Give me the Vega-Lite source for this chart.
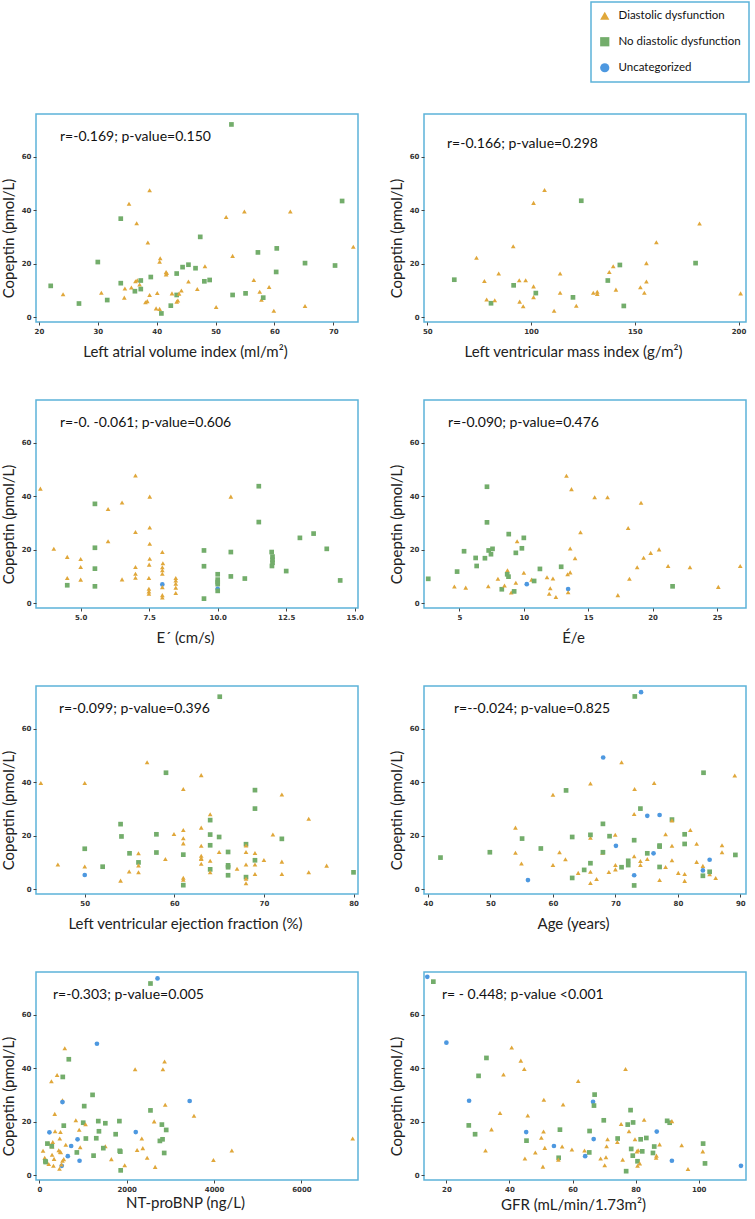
{
"$schema": "https://vega.github.io/schema/vega-lite/v6.json",
"background": "white",
"padding": {"left": 0, "top": 1, "right": 0, "bottom": 0},
"config": {
  "font": "Lato",
  "view": {"stroke": "#5cb3d9", "strokeWidth": 1.5},
  "axis": {"domain": false, "grid": false, "ticks": true, "tickSize": 3, "tickColor": "#444", "labelFont": "DejaVu Sans", "labelFontSize": 7, "labelFontWeight": "bold", "labelColor": "#333", "labelPadding": 2, "titleFont": "Lato", "titleFontSize": 15, "titleFontWeight": "normal", "titleColor": "#222"},
  "axisX": {"titleX": 149, "titlePadding": 10},
  "axisY": {"titleY": 124, "titlePadding": 5},
  "title": {"font": "Lato", "fontSize": 14, "fontWeight": "normal", "color": "#111", "anchor": "start", "frame": "group", "offset": -30},
  "legend": {"orient": "none", "legendX": 555, "legendY": -112, "strokeColor": "#5cb3d9", "strokeWidth": 1.5, "padding": 8, "labelFont": "Lato", "labelFontSize": 11.5, "labelColor": "#111", "symbolSize": 85, "rowPadding": 13, "labelOffset": 8, "labelLimit": 300}
},
"datasets": {
"p1": [
{"x":22.0,"y":11.8,"g":"N"},{"x":24.1,"y":8.7,"g":"D"},{"x":26.8,"y":5.2,"g":"N"},{"x":30.0,"y":20.7,"g":"N"},{"x":30.6,"y":9.2,"g":"D"},{"x":31.6,"y":6.5,"g":"N"},{"x":33.9,"y":36.9,"g":"N"},{"x":33.9,"y":12.8,"g":"N"},{"x":34.6,"y":10.8,"g":"D"},{"x":34.5,"y":7.4,"g":"D"},{"x":35.3,"y":42.5,"g":"D"},{"x":35.7,"y":11.2,"g":"D"},{"x":36.3,"y":9.8,"g":"N"},{"x":36.4,"y":13.5,"g":"D"},{"x":36.6,"y":35.2,"g":"D"},{"x":36.7,"y":13.9,"g":"D"},{"x":37.1,"y":12.3,"g":"D"},{"x":37.3,"y":10.6,"g":"N"},{"x":37.3,"y":13.8,"g":"N"},{"x":38.1,"y":5.7,"g":"D"},{"x":38.4,"y":6.1,"g":"D"},{"x":38.5,"y":28.0,"g":"D"},{"x":38.8,"y":47.5,"g":"D"},{"x":38.8,"y":8.4,"g":"D"},{"x":39.0,"y":15.1,"g":"N"},{"x":39.9,"y":3.4,"g":"D"},{"x":40.1,"y":9.1,"g":"D"},{"x":40.5,"y":3.2,"g":"D"},{"x":40.5,"y":20.8,"g":"D"},{"x":40.6,"y":22.1,"g":"D"},{"x":40.8,"y":1.5,"g":"N"},{"x":41.6,"y":17.0,"g":"D"},{"x":41.6,"y":16.1,"g":"D"},{"x":41.7,"y":16.6,"g":"D"},{"x":42.4,"y":4.4,"g":"N"},{"x":42.6,"y":9.0,"g":"D"},{"x":43.4,"y":8.4,"g":"N"},{"x":43.4,"y":16.4,"g":"N"},{"x":43.4,"y":5.9,"g":"D"},{"x":43.6,"y":6.3,"g":"D"},{"x":43.8,"y":8.9,"g":"D"},{"x":44.2,"y":10.1,"g":"D"},{"x":44.4,"y":18.8,"g":"N"},{"x":45.4,"y":19.7,"g":"N"},{"x":45.4,"y":13.4,"g":"D"},{"x":46.6,"y":18.4,"g":"N"},{"x":46.9,"y":10.6,"g":"D"},{"x":47.4,"y":30.1,"g":"N"},{"x":48.2,"y":19.1,"g":"D"},{"x":48.1,"y":13.5,"g":"N"},{"x":49.0,"y":14.0,"g":"N"},{"x":50.1,"y":3.9,"g":"D"},{"x":51.8,"y":37.5,"g":"D"},{"x":52.7,"y":72.1,"g":"N"},{"x":52.9,"y":23.0,"g":"D"},{"x":52.9,"y":8.4,"g":"N"},{"x":54.9,"y":39.6,"g":"D"},{"x":55.1,"y":9.0,"g":"N"},{"x":56.5,"y":14.0,"g":"D"},{"x":57.2,"y":24.3,"g":"N"},{"x":57.5,"y":9.6,"g":"D"},{"x":57.8,"y":6.6,"g":"D"},{"x":58.1,"y":7.4,"g":"N"},{"x":59.1,"y":11.4,"g":"D"},{"x":59.9,"y":2.5,"g":"D"},{"x":60.4,"y":25.8,"g":"N"},{"x":60.3,"y":17.0,"g":"N"},{"x":62.7,"y":39.6,"g":"D"},{"x":65.2,"y":20.3,"g":"N"},{"x":65.2,"y":4.3,"g":"D"},{"x":70.3,"y":19.4,"g":"N"},{"x":71.5,"y":43.5,"g":"N"},{"x":73.4,"y":26.4,"g":"D"}
],
"p2": [
{"x":63.0,"y":14.1,"g":"N"},{"x":73.7,"y":22.3,"g":"D"},{"x":77.5,"y":13.6,"g":"D"},{"x":78.6,"y":6.7,"g":"D"},{"x":80.7,"y":5.3,"g":"N"},{"x":82.5,"y":6.4,"g":"D"},{"x":84.4,"y":16.4,"g":"D"},{"x":91.6,"y":12.0,"g":"N"},{"x":91.4,"y":26.6,"g":"D"},{"x":94.3,"y":13.9,"g":"D"},{"x":94.5,"y":5.9,"g":"D"},{"x":96.2,"y":4.2,"g":"D"},{"x":97.4,"y":13.9,"g":"D"},{"x":101.2,"y":42.8,"g":"D"},{"x":101.2,"y":11.6,"g":"D"},{"x":101.2,"y":7.6,"g":"D"},{"x":102.3,"y":9.1,"g":"N"},{"x":106.5,"y":47.6,"g":"D"},{"x":111.1,"y":2.5,"g":"D"},{"x":114.0,"y":16.4,"g":"D"},{"x":114.0,"y":9.2,"g":"D"},{"x":120.2,"y":7.5,"g":"N"},{"x":121.8,"y":4.4,"g":"D"},{"x":124.2,"y":43.6,"g":"N"},{"x":130.0,"y":9.2,"g":"D"},{"x":131.9,"y":9.6,"g":"D"},{"x":131.9,"y":8.8,"g":"D"},{"x":137.0,"y":13.8,"g":"N"},{"x":137.7,"y":17.0,"g":"D"},{"x":139.6,"y":19.1,"g":"D"},{"x":142.8,"y":19.6,"g":"N"},{"x":140.9,"y":10.4,"g":"D"},{"x":144.7,"y":4.3,"g":"N"},{"x":152.7,"y":11.3,"g":"D"},{"x":154.6,"y":9.2,"g":"D"},{"x":155.6,"y":20.3,"g":"D"},{"x":155.6,"y":13.4,"g":"D"},{"x":160.4,"y":28.1,"g":"D"},{"x":179.3,"y":20.3,"g":"N"},{"x":181.2,"y":35.1,"g":"D"},{"x":201.0,"y":9.0,"g":"D"}
],
"p3": [
{"x":3.53,"y":42.9,"g":"D"},{"x":5.52,"y":37.2,"g":"N"},{"x":6.0,"y":35.3,"g":"D"},{"x":6.51,"y":37.7,"g":"D"},{"x":7.0,"y":47.8,"g":"D"},{"x":7.0,"y":26.7,"g":"D"},{"x":7.52,"y":39.9,"g":"D"},{"x":7.52,"y":28.4,"g":"D"},{"x":7.52,"y":22.3,"g":"D"},{"x":7.52,"y":16.7,"g":"D"},{"x":6.0,"y":23.2,"g":"D"},{"x":4.02,"y":20.4,"g":"D"},{"x":4.51,"y":17.4,"g":"D"},{"x":5.0,"y":16.6,"g":"D"},{"x":5.52,"y":20.8,"g":"N"},{"x":7.98,"y":19.2,"g":"D"},{"x":9.5,"y":19.8,"g":"N"},{"x":10.48,"y":39.9,"g":"D"},{"x":11.5,"y":43.8,"g":"N"},{"x":11.5,"y":30.4,"g":"N"},{"x":11.97,"y":19.2,"g":"N"},{"x":12.0,"y":17.5,"g":"N"},{"x":12.0,"y":16.3,"g":"N"},{"x":12.0,"y":15.2,"g":"N"},{"x":13.0,"y":24.5,"g":"N"},{"x":13.5,"y":26.1,"g":"N"},{"x":13.98,"y":20.4,"g":"N"},{"x":10.48,"y":19.2,"g":"N"},
{"x":4.51,"y":9.5,"g":"D"},{"x":4.51,"y":6.8,"g":"N"},{"x":5.0,"y":13.6,"g":"D"},{"x":5.0,"y":8.9,"g":"D"},{"x":5.52,"y":13.0,"g":"N"},{"x":5.52,"y":6.4,"g":"N"},{"x":6.51,"y":9.0,"g":"D"},{"x":7.0,"y":13.6,"g":"D"},{"x":7.0,"y":11.1,"g":"D"},{"x":7.0,"y":9.6,"g":"D"},{"x":7.49,"y":9.5,"g":"D"},{"x":7.49,"y":5.5,"g":"D"},{"x":7.49,"y":4.5,"g":"D"},{"x":7.49,"y":3.6,"g":"D"},{"x":7.98,"y":12.4,"g":"D"},{"x":7.98,"y":11.1,"g":"D"},{"x":7.98,"y":7.1,"g":"U"},{"x":7.98,"y":6.1,"g":"D"},{"x":7.98,"y":3.1,"g":"D"},{"x":7.98,"y":2.2,"g":"D"},{"x":8.47,"y":9.5,"g":"D"},{"x":8.47,"y":8.6,"g":"D"},{"x":8.47,"y":7.4,"g":"D"},{"x":8.47,"y":5.9,"g":"D"},{"x":8.47,"y":3.9,"g":"D"},{"x":9.5,"y":13.9,"g":"N"},{"x":9.5,"y":1.8,"g":"N"},{"x":10.0,"y":10.9,"g":"N"},{"x":10.0,"y":8.9,"g":"N"},{"x":10.0,"y":8.0,"g":"N"},{"x":10.0,"y":7.2,"g":"N"},{"x":10.0,"y":5.5,"g":"U"},{"x":10.0,"y":4.7,"g":"N"},{"x":10.48,"y":10.1,"g":"N"},{"x":10.99,"y":9.3,"g":"N"},{"x":11.98,"y":14.0,"g":"N"},{"x":12.5,"y":12.1,"g":"N"},{"x":14.47,"y":8.6,"g":"N"},{"x":7.5,"y":14.5,"g":"D"},{"x":8.0,"y":15.0,"g":"D"},{"x":7.98,"y":13.5,"g":"D"}
],
"p4": [
{"x":5.36,"y":19.5,"g":"N"},{"x":6.26,"y":17.0,"g":"N"},{"x":6.98,"y":16.9,"g":"N"},{"x":7.14,"y":43.6,"g":"N"},{"x":7.14,"y":30.3,"g":"N"},{"x":7.27,"y":19.8,"g":"N"},{"x":7.45,"y":18.4,"g":"N"},{"x":7.57,"y":20.4,"g":"N"},{"x":8.83,"y":25.9,"g":"N"},{"x":9.48,"y":23.2,"g":"D"},{"x":9.38,"y":18.9,"g":"N"},{"x":9.85,"y":20.6,"g":"N"},{"x":10.0,"y":24.5,"g":"N"},{"x":13.31,"y":47.7,"g":"D"},{"x":13.7,"y":42.7,"g":"D"},{"x":13.6,"y":20.5,"g":"D"},{"x":13.98,"y":16.9,"g":"D"},{"x":14.4,"y":26.6,"g":"D"},{"x":15.5,"y":39.7,"g":"D"},{"x":16.5,"y":39.7,"g":"D"},{"x":18.1,"y":28.2,"g":"D"},{"x":19.1,"y":37.6,"g":"D"},{"x":19.3,"y":17.1,"g":"D"},{"x":19.85,"y":18.9,"g":"D"},{"x":20.5,"y":20.2,"g":"D"},
{"x":2.58,"y":9.2,"g":"N"},{"x":4.82,"y":11.9,"g":"N"},{"x":4.61,"y":6.3,"g":"D"},{"x":6.34,"y":14.0,"g":"N"},{"x":5.49,"y":5.9,"g":"D"},{"x":7.24,"y":6.4,"g":"D"},{"x":7.99,"y":9.2,"g":"D"},{"x":8.29,"y":5.3,"g":"N"},{"x":8.5,"y":6.7,"g":"D"},{"x":8.73,"y":12.4,"g":"D"},{"x":8.71,"y":10.9,"g":"N"},{"x":8.81,"y":10.0,"g":"N"},{"x":9.02,"y":4.1,"g":"D"},{"x":9.25,"y":4.5,"g":"N"},{"x":9.38,"y":7.7,"g":"D"},{"x":10.0,"y":11.5,"g":"D"},{"x":10.23,"y":7.2,"g":"U"},{"x":10.6,"y":8.9,"g":"D"},{"x":10.8,"y":8.4,"g":"N"},{"x":11.25,"y":12.9,"g":"N"},{"x":11.8,"y":9.8,"g":"D"},{"x":12.05,"y":5.7,"g":"D"},{"x":11.97,"y":3.6,"g":"D"},{"x":12.26,"y":9.3,"g":"D"},{"x":12.49,"y":2.4,"g":"D"},{"x":12.9,"y":13.7,"g":"N"},{"x":13.4,"y":10.9,"g":"D"},{"x":13.6,"y":11.6,"g":"D"},{"x":13.44,"y":5.4,"g":"U"},{"x":13.44,"y":4.2,"g":"D"},{"x":17.3,"y":3.1,"g":"D"},{"x":18.2,"y":9.2,"g":"D"},{"x":18.8,"y":13.5,"g":"D"},{"x":21.2,"y":14.0,"g":"D"},{"x":21.55,"y":6.4,"g":"N"},{"x":22.9,"y":13.5,"g":"D"},{"x":25.1,"y":6.2,"g":"D"},{"x":26.8,"y":14.0,"g":"D"}
],
"p5": [
{"x":45.1,"y":39.8,"g":"D"},{"x":50.0,"y":39.8,"g":"D"},{"x":56.96,"y":47.5,"g":"D"},{"x":59.07,"y":43.6,"g":"N"},{"x":61.0,"y":37.5,"g":"D"},{"x":63.0,"y":42.7,"g":"D"},{"x":65.07,"y":72.0,"g":"N"},{"x":69.0,"y":37.1,"g":"N"},{"x":72.0,"y":35.5,"g":"D"},
{"x":47.0,"y":9.3,"g":"D"},{"x":50.0,"y":8.6,"g":"D"},{"x":50.0,"y":5.4,"g":"U"},{"x":50.0,"y":15.2,"g":"N"},{"x":52.0,"y":8.5,"g":"N"},{"x":54.0,"y":24.4,"g":"N"},{"x":54.1,"y":19.8,"g":"N"},{"x":54.0,"y":3.3,"g":"D"},{"x":55.0,"y":13.5,"g":"N"},{"x":54.96,"y":6.7,"g":"D"},{"x":56.0,"y":13.5,"g":"D"},{"x":56.0,"y":10.1,"g":"N"},{"x":56.0,"y":9.0,"g":"D"},{"x":56.0,"y":6.4,"g":"D"},{"x":58.0,"y":20.6,"g":"N"},{"x":58.0,"y":13.8,"g":"N"},{"x":59.0,"y":11.4,"g":"D"},{"x":59.96,"y":20.7,"g":"D"},{"x":61.0,"y":22.2,"g":"D"},{"x":61.0,"y":19.1,"g":"D"},{"x":61.0,"y":17.2,"g":"D"},{"x":61.0,"y":13.0,"g":"N"},{"x":61.0,"y":4.4,"g":"D"},{"x":61.0,"y":3.6,"g":"D"},{"x":61.0,"y":1.6,"g":"N"},{"x":63.0,"y":23.1,"g":"D"},{"x":63.0,"y":16.3,"g":"D"},{"x":63.0,"y":12.6,"g":"D"},{"x":63.0,"y":11.7,"g":"D"},{"x":63.0,"y":11.4,"g":"D"},{"x":63.0,"y":9.6,"g":"D"},{"x":64.0,"y":28.1,"g":"D"},{"x":64.0,"y":25.9,"g":"N"},{"x":64.0,"y":20.5,"g":"N"},{"x":64.0,"y":16.5,"g":"N"},{"x":64.0,"y":10.7,"g":"D"},{"x":64.0,"y":7.5,"g":"N"},{"x":64.0,"y":6.4,"g":"D"},{"x":65.0,"y":19.6,"g":"N"},{"x":65.0,"y":14.0,"g":"D"},{"x":66.0,"y":14.0,"g":"N"},{"x":66.0,"y":9.0,"g":"N"},{"x":66.0,"y":8.3,"g":"N"},{"x":66.0,"y":5.3,"g":"N"},{"x":67.0,"y":7.7,"g":"D"},{"x":68.0,"y":16.9,"g":"N"},{"x":68.0,"y":16.4,"g":"D"},{"x":68.0,"y":14.0,"g":"D"},{"x":68.0,"y":9.3,"g":"D"},{"x":68.0,"y":4.6,"g":"N"},{"x":68.0,"y":4.0,"g":"D"},{"x":68.0,"y":2.3,"g":"D"},{"x":69.0,"y":30.2,"g":"N"},{"x":69.0,"y":13.6,"g":"D"},{"x":69.0,"y":10.9,"g":"N"},{"x":69.0,"y":9.3,"g":"D"},{"x":69.0,"y":5.8,"g":"D"},{"x":70.0,"y":11.0,"g":"D"},{"x":71.0,"y":20.5,"g":"D"},{"x":72.0,"y":18.9,"g":"N"},{"x":72.0,"y":10.4,"g":"D"},{"x":72.0,"y":5.8,"g":"D"},{"x":75.0,"y":26.4,"g":"D"},{"x":75.0,"y":6.4,"g":"D"},{"x":77.0,"y":8.9,"g":"D"},{"x":80.0,"y":6.4,"g":"N"}
],
"p6": [
{"x":68.04,"y":49.3,"g":"U"},{"x":70.98,"y":47.5,"g":"D"},{"x":73.1,"y":72.1,"g":"N"},{"x":74.1,"y":73.7,"g":"U"},{"x":84.1,"y":43.6,"g":"N"},{"x":89.1,"y":42.6,"g":"D"},{"x":66.0,"y":39.6,"g":"D"},{"x":62.1,"y":37.0,"g":"N"},{"x":73.07,"y":37.5,"g":"D"},{"x":76.2,"y":39.8,"g":"D"},{"x":60.0,"y":35.4,"g":"D"},
{"x":42.0,"y":11.9,"g":"N"},{"x":49.9,"y":13.9,"g":"N"},{"x":54.0,"y":23.1,"g":"D"},{"x":54.0,"y":13.7,"g":"D"},{"x":55.06,"y":19.0,"g":"N"},{"x":54.96,"y":9.7,"g":"D"},{"x":56.0,"y":3.5,"g":"U"},{"x":58.06,"y":15.3,"g":"N"},{"x":60.0,"y":9.1,"g":"D"},{"x":61.05,"y":13.9,"g":"D"},{"x":62.0,"y":11.3,"g":"D"},{"x":63.08,"y":4.3,"g":"N"},{"x":63.08,"y":19.6,"g":"N"},{"x":64.04,"y":6.2,"g":"D"},{"x":65.0,"y":7.3,"g":"N"},{"x":66.0,"y":19.3,"g":"D"},{"x":66.0,"y":20.4,"g":"N"},{"x":66.0,"y":9.8,"g":"N"},{"x":66.0,"y":6.6,"g":"D"},{"x":66.0,"y":2.4,"g":"D"},{"x":66.98,"y":3.9,"g":"D"},{"x":67.94,"y":13.7,"g":"D"},{"x":68.0,"y":13.9,"g":"N"},{"x":68.0,"y":24.5,"g":"N"},{"x":68.95,"y":6.5,"g":"D"},{"x":69.06,"y":19.9,"g":"N"},{"x":69.97,"y":20.4,"g":"D"},{"x":70.08,"y":16.3,"g":"U"},{"x":70.0,"y":9.1,"g":"D"},{"x":70.0,"y":7.5,"g":"D"},{"x":70.98,"y":8.3,"g":"N"},{"x":72.05,"y":10.7,"g":"N"},{"x":72.05,"y":9.1,"g":"N"},{"x":73.0,"y":28.2,"g":"D"},{"x":73.0,"y":18.4,"g":"N"},{"x":73.0,"y":12.4,"g":"D"},{"x":73.0,"y":5.3,"g":"U"},{"x":73.0,"y":1.5,"g":"N"},{"x":74.0,"y":30.2,"g":"N"},{"x":74.0,"y":10.6,"g":"D"},{"x":74.0,"y":9.1,"g":"D"},{"x":75.1,"y":27.5,"g":"U"},{"x":75.1,"y":13.5,"g":"N"},{"x":75.1,"y":11.4,"g":"D"},{"x":76.1,"y":13.5,"g":"U"},{"x":77.07,"y":27.8,"g":"U"},{"x":77.07,"y":16.4,"g":"N"},{"x":77.07,"y":16.0,"g":"N"},{"x":77.07,"y":8.4,"g":"N"},{"x":77.07,"y":3.5,"g":"D"},{"x":78.03,"y":20.6,"g":"D"},{"x":78.03,"y":8.4,"g":"D"},{"x":79.05,"y":26.1,"g":"N"},{"x":79.05,"y":25.8,"g":"D"},{"x":79.05,"y":16.3,"g":"D"},{"x":79.05,"y":10.9,"g":"D"},{"x":80.06,"y":6.2,"g":"D"},{"x":81.08,"y":5.8,"g":"D"},{"x":81.08,"y":3.2,"g":"D"},{"x":81.08,"y":20.6,"g":"N"},{"x":81.08,"y":17.0,"g":"N"},{"x":81.99,"y":22.2,"g":"D"},{"x":83.0,"y":17.1,"g":"D"},{"x":83.0,"y":10.3,"g":"D"},{"x":84.0,"y":8.8,"g":"D"},{"x":84.0,"y":7.1,"g":"U"},{"x":84.0,"y":5.1,"g":"N"},{"x":85.08,"y":5.7,"g":"D"},{"x":85.08,"y":6.6,"g":"N"},{"x":85.08,"y":11.1,"g":"U"},{"x":86.05,"y":4.3,"g":"D"},{"x":87.06,"y":16.5,"g":"D"},{"x":87.06,"y":13.9,"g":"D"},{"x":89.2,"y":12.9,"g":"N"}
],
"p7": [
{"x":2705,"y":73.6,"g":"U"},{"x":2544,"y":71.7,"g":"N"},{"x":1318,"y":49.2,"g":"U"},{"x":582,"y":47.5,"g":"D"},{"x":674,"y":43.4,"g":"N"},{"x":406,"y":37.5,"g":"D"},{"x":536,"y":36.8,"g":"N"},{"x":276,"y":35.2,"g":"D"},{"x":2192,"y":39.7,"g":"D"},{"x":2866,"y":42.6,"g":"D"},{"x":2828,"y":39.7,"g":"D"},{"x":1218,"y":30.1,"g":"N"},{"x":529,"y":28.1,"g":"D"},{"x":529,"y":27.4,"g":"U"},{"x":3441,"y":27.8,"g":"U"},{"x":1027,"y":25.9,"g":"N"},{"x":2881,"y":26.4,"g":"D"},{"x":2544,"y":24.3,"g":"N"},{"x":352,"y":23.0,"g":"D"},{"x":3540,"y":22.3,"g":"D"},{"x":835,"y":20.6,"g":"D"},{"x":559,"y":18.6,"g":"N"},{"x":1349,"y":20.3,"g":"N"},{"x":1510,"y":19.5,"g":"N"},{"x":1004,"y":19.7,"g":"N"},{"x":1057,"y":19.1,"g":"D"},{"x":1832,"y":20.3,"g":"N"},{"x":2628,"y":20.2,"g":"D"},{"x":2805,"y":19.0,"g":"N"},{"x":2904,"y":17.0,"g":"N"},{"x":360,"y":16.5,"g":"D"},{"x":483,"y":16.2,"g":"D"},{"x":230,"y":16.1,"g":"U"},{"x":2207,"y":16.2,"g":"U"},{"x":912,"y":17.1,"g":"D"},{"x":1364,"y":16.5,"g":"N"},{"x":1747,"y":15.4,"g":"N"},{"x":467,"y":13.8,"g":"D"},{"x":1303,"y":13.9,"g":"N"},{"x":1065,"y":13.8,"g":"N"},{"x":874,"y":13.5,"g":"U"},{"x":2345,"y":13.8,"g":"D"},{"x":2820,"y":13.5,"g":"N"},{"x":2759,"y":12.9,"g":"N"},{"x":7173,"y":13.8,"g":"D"},{"x":307,"y":12.5,"g":"D"},{"x":215,"y":12.0,"g":"D"},{"x":184,"y":11.9,"g":"N"},{"x":605,"y":11.5,"g":"D"},{"x":728,"y":11.0,"g":"U"},{"x":1510,"y":10.9,"g":"D"},{"x":1464,"y":10.2,"g":"N"},{"x":2368,"y":10.2,"g":"D"},{"x":935,"y":10.5,"g":"D"},{"x":291,"y":10.8,"g":"D"},{"x":284,"y":10.9,"g":"N"},{"x":2238,"y":9.5,"g":"D"},{"x":84,"y":9.2,"g":"D"},{"x":444,"y":9.4,"g":"D"},{"x":475,"y":8.9,"g":"D"},{"x":4406,"y":9.3,"g":"D"},{"x":490,"y":8.7,"g":"D"},{"x":1839,"y":9.2,"g":"N"},{"x":1854,"y":8.9,"g":"N"},{"x":858,"y":8.6,"g":"N"},{"x":2858,"y":8.4,"g":"N"},{"x":1241,"y":7.4,"g":"N"},{"x":651,"y":7.2,"g":"U"},{"x":291,"y":7.7,"g":"D"},{"x":123,"y":6.6,"g":"D"},{"x":337,"y":6.2,"g":"D"},{"x":559,"y":6.1,"g":"D"},{"x":1648,"y":6.1,"g":"D"},{"x":2468,"y":6.6,"g":"D"},{"x":3985,"y":5.8,"g":"D"},{"x":529,"y":5.5,"g":"D"},{"x":920,"y":5.5,"g":"U"},{"x":138,"y":5.3,"g":"N"},{"x":146,"y":5.0,"g":"N"},{"x":215,"y":4.3,"g":"D"},{"x":1954,"y":3.8,"g":"D"},{"x":513,"y":3.6,"g":"U"},{"x":506,"y":4.1,"g":"D"},{"x":322,"y":3.6,"g":"D"},{"x":2651,"y":3.2,"g":"D"},{"x":460,"y":2.5,"g":"D"},{"x":1862,"y":1.9,"g":"N"}
],
"p8": [
{"x":13.95,"y":74.2,"g":"U"},{"x":15.86,"y":72.4,"g":"N"},{"x":20.0,"y":49.6,"g":"U"},{"x":40.7,"y":47.8,"g":"D"},{"x":32.7,"y":43.9,"g":"N"},{"x":43.6,"y":42.9,"g":"D"},{"x":44.7,"y":39.8,"g":"D"},{"x":30.2,"y":37.2,"g":"N"},{"x":38.1,"y":37.7,"g":"D"},{"x":76.8,"y":39.8,"g":"D"},{"x":61.8,"y":35.3,"g":"D"},{"x":67.0,"y":30.2,"g":"N"},{"x":66.5,"y":27.5,"g":"U"},{"x":66.8,"y":26.1,"g":"N"},{"x":57.0,"y":26.5,"g":"D"},{"x":50.9,"y":28.3,"g":"D"},{"x":27.2,"y":27.9,"g":"U"},{"x":37.0,"y":23.3,"g":"D"},{"x":45.8,"y":22.4,"g":"D"},{"x":78.4,"y":24.4,"g":"N"},{"x":69.9,"y":20.6,"g":"N"},{"x":82.7,"y":20.8,"g":"D"},{"x":90.0,"y":20.4,"g":"N"},{"x":90.8,"y":19.7,"g":"N"},{"x":91.5,"y":20.3,"g":"D"},{"x":79.2,"y":19.8,"g":"N"},{"x":77.5,"y":19.0,"g":"N"},{"x":75.4,"y":19.2,"g":"D"},{"x":27.1,"y":18.7,"g":"N"},{"x":29.1,"y":15.4,"g":"N"},{"x":34.3,"y":17.2,"g":"D"},{"x":56.0,"y":17.1,"g":"N"},{"x":77.9,"y":16.5,"g":"D"},{"x":65.4,"y":16.6,"g":"N"},{"x":45.3,"y":16.2,"g":"U"},{"x":86.7,"y":16.4,"g":"U"},{"x":50.8,"y":16.4,"g":"D"},{"x":50.1,"y":14.1,"g":"D"},{"x":45.4,"y":13.0,"g":"N"},{"x":66.7,"y":13.6,"g":"U"},{"x":71.1,"y":13.5,"g":"D"},{"x":74.3,"y":13.8,"g":"N"},{"x":79.8,"y":13.5,"g":"D"},{"x":81.6,"y":13.5,"g":"N"},{"x":83.4,"y":14.0,"g":"N"},{"x":74.2,"y":12.5,"g":"D"},{"x":101.4,"y":11.9,"g":"N"},{"x":94.6,"y":11.3,"g":"D"},{"x":87.6,"y":11.6,"g":"D"},{"x":85.9,"y":10.8,"g":"N"},{"x":70.8,"y":10.9,"g":"D"},{"x":56.7,"y":10.8,"g":"D"},{"x":54.1,"y":11.0,"g":"U"},{"x":51.2,"y":10.3,"g":"D"},{"x":32.4,"y":9.3,"g":"D"},{"x":59.8,"y":9.7,"g":"D"},{"x":63.8,"y":9.3,"g":"D"},{"x":78.6,"y":9.9,"g":"N"},{"x":80.4,"y":9.0,"g":"D"},{"x":80.8,"y":9.4,"g":"D"},{"x":82.1,"y":9.0,"g":"N"},{"x":101.3,"y":9.0,"g":"D"},{"x":65.3,"y":8.6,"g":"N"},{"x":48.2,"y":8.6,"g":"D"},{"x":85.5,"y":8.4,"g":"N"},{"x":79.1,"y":7.4,"g":"N"},{"x":86.6,"y":7.4,"g":"D"},{"x":64.0,"y":7.2,"g":"U"},{"x":70.6,"y":6.8,"g":"D"},{"x":68.9,"y":6.3,"g":"D"},{"x":86.5,"y":6.6,"g":"D"},{"x":44.9,"y":6.3,"g":"D"},{"x":55.6,"y":6.6,"g":"N"},{"x":55.5,"y":5.9,"g":"D"},{"x":75.9,"y":5.9,"g":"D"},{"x":80.6,"y":5.3,"g":"N"},{"x":91.5,"y":5.5,"g":"U"},{"x":81.3,"y":4.5,"g":"D"},{"x":102.0,"y":4.5,"g":"N"},{"x":80.6,"y":3.6,"g":"D"},{"x":70.2,"y":3.8,"g":"D"},{"x":50.6,"y":3.3,"g":"D"},{"x":113.4,"y":3.6,"g":"U"},{"x":96.6,"y":2.4,"g":"D"},{"x":77.0,"y":1.6,"g":"N"}
]
},
"columns": 2,
"spacing": {"row": 78, "column": 66},
"bounds": "flush",
"concat": [
{"width": 322, "height": 208, "data": {"name": "p1"}, "title": {"text": "r=-0.169; p-value=0.150", "dx": 24},
 "mark": {"type": "point", "filled": true, "size": 22, "opacity": 1},
 "encoding": {
  "x": {"field": "x", "type": "quantitative", "scale": {"domain": [19.5, 74.2], "nice": false, "zero": false}, "axis": {"values": [20,30,40,50,60,70], "title": "Left atrial volume index (ml/m²)"}},
  "y": {"field": "y", "type": "quantitative", "scale": {"domain": [-1.7, 76], "nice": false, "zero": false}, "axis": {"values": [0,20,40,60], "title": "Copeptin (pmol/L)"}},
  "color": {"field": "g", "type": "nominal", "scale": {"domain": ["D","N","U"], "range": ["#e0a73a","#73ad6b","#4d98e0"]}, "legend": {"title": null, "labelExpr": "datum.value=='D'?'Diastolic dysfunction':datum.value=='N'?'No diastolic dysfunction':'Uncategorized'"}},
  "shape": {"field": "g", "type": "nominal", "scale": {"domain": ["D","N","U"], "range": ["triangle-up","square","circle"]}, "legend": {"title": null, "labelExpr": "datum.value=='D'?'Diastolic dysfunction':datum.value=='N'?'No diastolic dysfunction':'Uncategorized'"}}
 }},
{"width": 322, "height": 208, "data": {"name": "p2"}, "title": {"text": "r=-0.166; p-value=0.298", "dx": 23, "offset": -37},
 "mark": {"type": "point", "filled": true, "size": 22, "opacity": 1},
 "encoding": {
  "x": {"field": "x", "type": "quantitative", "scale": {"domain": [48.4, 203.6], "nice": false, "zero": false}, "axis": {"values": [50,100,150,200], "title": "Left ventricular mass index (g/m²)"}},
  "y": {"field": "y", "type": "quantitative", "scale": {"domain": [-1.7, 76], "nice": false, "zero": false}, "axis": {"values": [0,20,40,60], "title": "Copeptin (pmol/L)"}},
  "color": {"field": "g", "type": "nominal", "scale": {"domain": ["D","N","U"], "range": ["#e0a73a","#73ad6b","#4d98e0"]}, "legend": {"title": null, "labelExpr": "datum.value=='D'?'Diastolic dysfunction':datum.value=='N'?'No diastolic dysfunction':'Uncategorized'"}},
  "shape": {"field": "g", "type": "nominal", "scale": {"domain": ["D","N","U"], "range": ["triangle-up","square","circle"]}, "legend": {"title": null, "labelExpr": "datum.value=='D'?'Diastolic dysfunction':datum.value=='N'?'No diastolic dysfunction':'Uncategorized'"}}
 }},
{"width": 322, "height": 208, "data": {"name": "p3"}, "title": {"text": "r=-0. -0.061; p-value=0.606", "dx": 24},
 "mark": {"type": "point", "filled": true, "size": 22, "opacity": 1},
 "encoding": {
  "x": {"field": "x", "type": "quantitative", "scale": {"domain": [3.37, 15.12], "nice": false, "zero": false}, "axis": {"values": [5,7.5,10,12.5,15], "format": ".1f", "title": "E´ (cm/s)"}},
  "y": {"field": "y", "type": "quantitative", "scale": {"domain": [-1.7, 76], "nice": false, "zero": false}, "axis": {"values": [0,20,40,60], "title": "Copeptin (pmol/L)"}},
  "color": {"field": "g", "type": "nominal", "scale": {"domain": ["D","N","U"], "range": ["#e0a73a","#73ad6b","#4d98e0"]}, "legend": {"title": null, "labelExpr": "datum.value=='D'?'Diastolic dysfunction':datum.value=='N'?'No diastolic dysfunction':'Uncategorized'"}},
  "shape": {"field": "g", "type": "nominal", "scale": {"domain": ["D","N","U"], "range": ["triangle-up","square","circle"]}, "legend": {"title": null, "labelExpr": "datum.value=='D'?'Diastolic dysfunction':datum.value=='N'?'No diastolic dysfunction':'Uncategorized'"}}
 }},
{"width": 322, "height": 208, "data": {"name": "p4"}, "title": {"text": "r=-0.090; p-value=0.476", "dx": 24},
 "mark": {"type": "point", "filled": true, "size": 22, "opacity": 1},
 "encoding": {
  "x": {"field": "x", "type": "quantitative", "scale": {"domain": [2.25, 27.25], "nice": false, "zero": false}, "axis": {"values": [5,10,15,20,25], "title": "É/e"}},
  "y": {"field": "y", "type": "quantitative", "scale": {"domain": [-1.7, 76], "nice": false, "zero": false}, "axis": {"values": [0,20,40,60], "title": "Copeptin (pmol/L)"}},
  "color": {"field": "g", "type": "nominal", "scale": {"domain": ["D","N","U"], "range": ["#e0a73a","#73ad6b","#4d98e0"]}, "legend": {"title": null, "labelExpr": "datum.value=='D'?'Diastolic dysfunction':datum.value=='N'?'No diastolic dysfunction':'Uncategorized'"}},
  "shape": {"field": "g", "type": "nominal", "scale": {"domain": ["D","N","U"], "range": ["triangle-up","square","circle"]}, "legend": {"title": null, "labelExpr": "datum.value=='D'?'Diastolic dysfunction':datum.value=='N'?'No diastolic dysfunction':'Uncategorized'"}}
 }},
{"width": 322, "height": 208, "data": {"name": "p5"}, "title": {"text": "r=-0.099; p-value=0.396", "dx": 23},
 "mark": {"type": "point", "filled": true, "size": 22, "opacity": 1},
 "encoding": {
  "x": {"field": "x", "type": "quantitative", "scale": {"domain": [44.56, 80.5], "nice": false, "zero": false}, "axis": {"values": [50,60,70,80], "title": "Left ventricular ejection fraction (%)"}},
  "y": {"field": "y", "type": "quantitative", "scale": {"domain": [-1.7, 76], "nice": false, "zero": false}, "axis": {"values": [0,20,40,60], "title": "Copeptin (pmol/L)"}},
  "color": {"field": "g", "type": "nominal", "scale": {"domain": ["D","N","U"], "range": ["#e0a73a","#73ad6b","#4d98e0"]}, "legend": {"title": null, "labelExpr": "datum.value=='D'?'Diastolic dysfunction':datum.value=='N'?'No diastolic dysfunction':'Uncategorized'"}},
  "shape": {"field": "g", "type": "nominal", "scale": {"domain": ["D","N","U"], "range": ["triangle-up","square","circle"]}, "legend": {"title": null, "labelExpr": "datum.value=='D'?'Diastolic dysfunction':datum.value=='N'?'No diastolic dysfunction':'Uncategorized'"}}
 }},
{"width": 322, "height": 208, "data": {"name": "p6"}, "title": {"text": "r=--0.024; p-value=0.825", "dx": 30},
 "mark": {"type": "point", "filled": true, "size": 22, "opacity": 1},
 "encoding": {
  "x": {"field": "x", "type": "quantitative", "scale": {"domain": [39.36, 90.9], "nice": false, "zero": false}, "axis": {"values": [40,50,60,70,80,90], "title": "Age (years)"}},
  "y": {"field": "y", "type": "quantitative", "scale": {"domain": [-1.7, 76], "nice": false, "zero": false}, "axis": {"values": [0,20,40,60], "title": "Copeptin (pmol/L)"}},
  "color": {"field": "g", "type": "nominal", "scale": {"domain": ["D","N","U"], "range": ["#e0a73a","#73ad6b","#4d98e0"]}, "legend": {"title": null, "labelExpr": "datum.value=='D'?'Diastolic dysfunction':datum.value=='N'?'No diastolic dysfunction':'Uncategorized'"}},
  "shape": {"field": "g", "type": "nominal", "scale": {"domain": ["D","N","U"], "range": ["triangle-up","square","circle"]}, "legend": {"title": null, "labelExpr": "datum.value=='D'?'Diastolic dysfunction':datum.value=='N'?'No diastolic dysfunction':'Uncategorized'"}}
 }},
{"width": 322, "height": 208, "data": {"name": "p7"}, "title": {"text": "r=-0.303; p-value=0.005", "dx": 17},
 "mark": {"type": "point", "filled": true, "size": 22, "opacity": 1},
 "encoding": {
  "x": {"field": "x", "type": "quantitative", "scale": {"domain": [-77, 7295], "nice": false, "zero": false}, "axis": {"values": [0,2000,4000,6000], "format": "d", "title": "NT-proBNP (ng/L)", "titlePadding": 3}},
  "y": {"field": "y", "type": "quantitative", "scale": {"domain": [-1.7, 76], "nice": false, "zero": false}, "axis": {"values": [0,20,40,60], "title": "Copeptin (pmol/L)"}},
  "color": {"field": "g", "type": "nominal", "scale": {"domain": ["D","N","U"], "range": ["#e0a73a","#73ad6b","#4d98e0"]}, "legend": {"title": null, "labelExpr": "datum.value=='D'?'Diastolic dysfunction':datum.value=='N'?'No diastolic dysfunction':'Uncategorized'"}},
  "shape": {"field": "g", "type": "nominal", "scale": {"domain": ["D","N","U"], "range": ["triangle-up","square","circle"]}, "legend": {"title": null, "labelExpr": "datum.value=='D'?'Diastolic dysfunction':datum.value=='N'?'No diastolic dysfunction':'Uncategorized'"}}
 }},
{"width": 322, "height": 208, "data": {"name": "p8"}, "title": {"text": "r= - 0.448; p-value <0.001", "dx": 18},
 "mark": {"type": "point", "filled": true, "size": 22, "opacity": 1},
 "encoding": {
  "x": {"field": "x", "type": "quantitative", "scale": {"domain": [12.9, 115], "nice": false, "zero": false}, "axis": {"values": [20,40,60,80,100], "title": "GFR (mL/min/1.73m²)", "titlePadding": 5}},
  "y": {"field": "y", "type": "quantitative", "scale": {"domain": [-1.7, 76], "nice": false, "zero": false}, "axis": {"values": [0,20,40,60], "title": "Copeptin (pmol/L)"}},
  "color": {"field": "g", "type": "nominal", "scale": {"domain": ["D","N","U"], "range": ["#e0a73a","#73ad6b","#4d98e0"]}, "legend": {"title": null, "labelExpr": "datum.value=='D'?'Diastolic dysfunction':datum.value=='N'?'No diastolic dysfunction':'Uncategorized'"}},
  "shape": {"field": "g", "type": "nominal", "scale": {"domain": ["D","N","U"], "range": ["triangle-up","square","circle"]}, "legend": {"title": null, "labelExpr": "datum.value=='D'?'Diastolic dysfunction':datum.value=='N'?'No diastolic dysfunction':'Uncategorized'"}}
 }}
]
}
